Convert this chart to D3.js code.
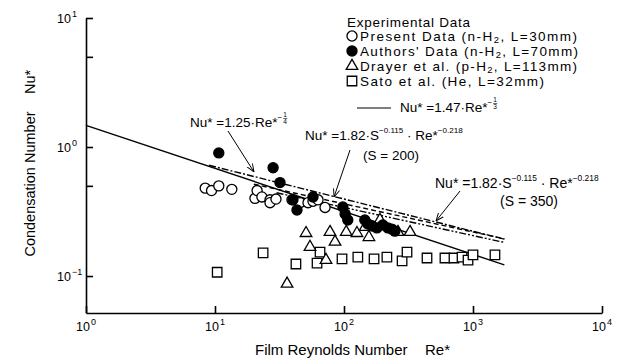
<!DOCTYPE html>
<html>
<head>
<meta charset="utf-8">
<script src="https://cdn.jsdelivr.net/npm/d3@7"></script>
<style>
  body { margin: 0; background: #fff; }
  text { font-family: "Liberation Sans", Arial, sans-serif; fill: #000; }
</style>
</head>
<body>
<script>
// data: [Re*, Nu*]
var presentData = [[8.4,0.48],[9.4,0.46],[10.7,0.50],[13.5,0.47],[20.4,0.40],[21.2,0.46],[23.1,0.41],
  [26.7,0.39],[26.7,0.37],[29.7,0.395],[39.5,0.39],[45.6,0.37],[52.6,0.37],[57.5,0.38],[62.9,0.39],[71.3,0.34]];
var authorsData = [[10.7,0.90],[28.2,0.69],[31.9,0.53],[40.2,0.39],[43.2,0.325],[57.5,0.41],[98,0.343],
  [102,0.303],[107,0.272],[145,0.272],[153,0.253],[165,0.244],[180,0.236],[200,0.249],[219,0.236],[235,0.231],[248,0.223]];
var drayerData = [[36.2,0.087],[50.8,0.215],[54.5,0.168],[72.5,0.133],[77.9,0.219],[85.2,0.184],[104,0.219],
  [126,0.215],[146,0.240],[156,0.200],[190,0.272],[262,0.219],[325,0.219]];
var satoData = [[10.4,0.107],[23.6,0.151],[42.4,0.124],[61.8,0.126],[65.2,0.153],[96.5,0.136],[128,0.140],
  [171,0.136],[215,0.140],[282,0.131],[308,0.153],[440,0.138],[606,0.138],[712,0.138],[822,0.140],
  [915,0.133],[1000,0.146],[1480,0.146]];

// correlations shown on the chart: Nu* = c * Re*^e, drawn between Re* limits
var corrNames = ["solid", "c125", "s200", "s350"];
var corrCoef = [1.47, 1.25, 1.82 * Math.pow(200, -0.115), 1.82 * Math.pow(350, -0.115)];
var corrExp = [-1/3, -1/4, -0.218, -0.218];
var corrFrom = [1, 9, 20, 30];
var corrTo = [1750, 1750, 1750, 1750];
var corrDash = [null, "7,2,2,2", "5,3", "7,2,2,2,2,2"];

var xTicks = [1, 10, 100, 1000, 10000];
var xTickExp = ["0", "1", "2", "3", "4"];
var yTicks = [0.1, 0.5, 1, 5, 10];
var yLabelVals = [0.1, 1, 10];
var yLabelExp = ["\u22121", "0", "1"];

var width = 626, height = 358;
var svg = d3.select("body").append("svg").attr("width", width).attr("height", height);

var x = d3.scaleLog().domain([1, 1e4]).range([86, 602]);
var y = d3.scaleLog().domain([0.0517, 10]).range([313, 18]);

svg.append("g").attr("transform", "translate(86,0)")
  .call(d3.axisLeft(y).tickValues(yTicks).tickSizeInner(-7).tickSizeOuter(0).tickFormat(""))
  .call(function(g) { g.selectAll("path,line").attr("stroke", "#000").attr("stroke-width", 1.6); });
svg.append("g").attr("transform", "translate(0,313)")
  .call(d3.axisBottom(x).tickValues(xTicks).tickSizeInner(-7).tickSizeOuter(0).tickFormat(""))
  .call(function(g) { g.selectAll("path,line").attr("stroke", "#000").attr("stroke-width", 1.6); });

// power-of-ten labels
yLabelVals.forEach(function(v, i) {
  svg.append("text").attr("x", 71).attr("y", y(v) + 5).attr("text-anchor", "end")
    .style("font-size", "12.5px").text("10");
  svg.append("text").attr("x", 72).attr("y", y(v) - 1).style("font-size", "9px").text(yLabelExp[i]);
});
xTicks.forEach(function(v, i) {
  svg.append("text").attr("x", x(v) + 4).attr("y", 331).attr("text-anchor", "end")
    .style("font-size", "12.5px").text("10");
  svg.append("text").attr("x", x(v) + 5).attr("y", 325).style("font-size", "9px").text(xTickExp[i]);
});

// axis titles
svg.append("text").attr("transform", "translate(35,184) rotate(-90)").attr("text-anchor", "middle")
  .style("font-size", "14.5px").text("Condensation Number");
svg.append("text").attr("transform", "translate(35,82) rotate(-90)").attr("text-anchor", "middle")
  .style("font-size", "14.5px").text("Nu*");
svg.append("text").attr("x", 255).attr("y", 355).style("font-size", "15px").text("Film Reynolds Number");
svg.append("text").attr("x", 425).attr("y", 355).style("font-size", "15px").text("Re*");

// correlation lines
var line = d3.line().x(function(d) { return x(d[0]); }).y(function(d) { return y(d[1]); });
corrNames.forEach(function(n, i) {
  var pts = [corrFrom[i], corrTo[i]].map(function(r) { return [r, corrCoef[i] * Math.pow(r, corrExp[i])]; });
  svg.append("path").attr("class", "corr-" + n).attr("d", line(pts))
    .attr("fill", "none").attr("stroke", "#000").attr("stroke-width", 1.4)
    .attr("stroke-dasharray", corrDash[i]);
});

// markers
var sym = {
  circle: d3.symbol().type(d3.symbolCircle).size(80)(),
  tri: d3.symbol().type(d3.symbolTriangle).size(58)(),
  square: d3.symbol().type(d3.symbolSquare).size(90)()
};
function plot(data, shape, fill) {
  svg.append("g").selectAll("path").data(data).enter().append("path")
    .attr("d", sym[shape])
    .attr("transform", function(d) { return "translate(" + x(d[0]) + "," + y(d[1]) + ")"; })
    .attr("fill", fill).attr("stroke", "#000").attr("stroke-width", 1.3);
}
plot(satoData, "square", "#fff");
plot(drayerData, "tri", "#fff");
plot(presentData, "circle", "#fff");
plot(authorsData, "circle", "#000");

// rich text helper: parts {t, sup|sub|frac}
function rich(px, py, size, parts) {
  var t = svg.append("text").attr("x", px).attr("y", py).style("font-size", size + "px");
  var shift = 0;
  parts.forEach(function(p) {
    if (p.frac) {
      var fx = px + t.node().getComputedTextLength() + 3;
      var g = svg.append("g");
      g.append("text").attr("x", fx).attr("y", py - 10).attr("text-anchor", "middle")
        .style("font-size", "6.5px").text(p.frac[0]);
      g.append("line").attr("x1", fx - 2).attr("x2", fx + 2).attr("y1", py - 8.5).attr("y2", py - 8.5)
        .attr("stroke", "#000").attr("stroke-width", 0.6);
      g.append("text").attr("x", fx).attr("y", py - 3).attr("text-anchor", "middle")
        .style("font-size", "6.5px").text(p.frac[1]);
      return;
    }
    var want = p.sup ? -7 : p.sub ? 2 : 0;
    var s = t.append("tspan").attr("dy", want - shift).text(p.t);
    shift = want;
    if (p.sup) s.style("font-size", (size * 0.6) + "px");
    if (p.sub) s.style("font-size", (size * 0.7) + "px");
  });
  return t;
}

// legend
svg.append("text").attr("x", 347).attr("y", 27).style("font-size", "13.5px")
  .attr("textLength", 123).attr("lengthAdjust", "spacing").text("Experimental Data");
var legShapes = ["circle", "circle", "tri", "square"];
var legFills = ["#fff", "#000", "#fff", "#fff"];
var legWidths = [217, 218, 217, 184];
var legParts = [
  [{t: "Present Data (n-H"}, {t: "2", sub: true}, {t: ", L=30mm)"}],
  [{t: "Authors' Data (n-H"}, {t: "2", sub: true}, {t: ", L=70mm)"}],
  [{t: "Drayer et al. (p-H"}, {t: "2", sub: true}, {t: ", L=113mm)"}],
  [{t: "Sato et al. (He, L=32mm)"}]
];
legParts.forEach(function(parts, i) {
  var cy = 36 + i * 15;
  svg.append("path").attr("d", sym[legShapes[i]]).attr("transform", "translate(352," + cy + ")")
    .attr("fill", legFills[i]).attr("stroke", "#000").attr("stroke-width", 1.3);
  rich(360, cy + 5, 13.5, parts).attr("textLength", legWidths[i]).attr("lengthAdjust", "spacing");
});
svg.append("line").attr("x1", 357).attr("x2", 391).attr("y1", 108).attr("y2", 108)
  .attr("stroke", "#000").attr("stroke-width", 1.2);
rich(400, 112, 13.5, [{t: "Nu* =1.47\u00b7Re*"}, {t: "\u2212", sup: true}, {frac: ["1", "3"]}]);

// equation labels
rich(190, 127, 13.5, [{t: "Nu* =1.25\u00b7Re*"}, {t: "\u2212", sup: true}, {frac: ["1", "4"]}]);
rich(305, 140, 13.5, [{t: "Nu* =1.82\u00b7S"}, {t: "\u22120.115", sup: true}, {t: " \u00b7 Re*"}, {t: "\u22120.218", sup: true}]);
svg.append("text").attr("x", 363).attr("y", 160).style("font-size", "13.5px").text("(S = 200)");
rich(435, 188, 14, [{t: "Nu* =1.82\u00b7S"}, {t: "\u22120.115", sup: true}, {t: " \u00b7 Re*"}, {t: "\u22120.218", sup: true}]);
svg.append("text").attr("x", 500).attr("y", 206).style("font-size", "14px").text("(S = 350)");

// arrows
var defs = svg.append("defs");
defs.append("marker").attr("id", "ah").attr("viewBox", "0 0 10 10").attr("refX", 10).attr("refY", 5)
  .attr("markerWidth", 8).attr("markerHeight", 8).attr("orient", "auto")
  .append("path").attr("d", "M0,1 L10,5 L0,9").attr("fill", "none").attr("stroke", "#000").attr("stroke-width", 1.2);
var arrowFrom = [[228, 131], [350, 150], [460, 191]];
var arrowTo = [[254, 172], [334, 197], [436, 221]];
arrowFrom.forEach(function(a, i) {
  svg.append("line").attr("x1", a[0]).attr("y1", a[1]).attr("x2", arrowTo[i][0]).attr("y2", arrowTo[i][1])
    .attr("stroke", "#000").attr("stroke-width", 1).attr("marker-end", "url(#ah)");
});
</script>
</body>
</html>
